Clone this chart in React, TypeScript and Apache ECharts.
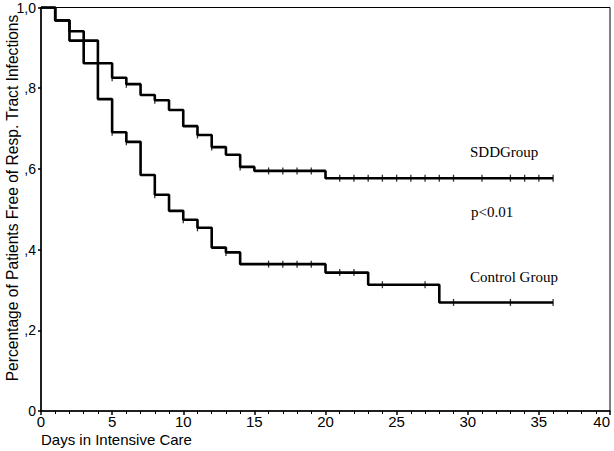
import React, { useEffect, useRef } from "react";
import * as echarts from "echarts";

const sddDays = [0, 1, 2, 3, 5, 6, 7, 8, 9, 10, 11, 12, 13, 14, 15, 20, 36];
const sddValues = [1.0, 0.968, 0.941, 0.862, 0.826, 0.81, 0.783, 0.77, 0.746, 0.706, 0.684, 0.654, 0.635, 0.605, 0.595, 0.577, 0.577];
const ctrlDays = [0, 1, 2, 4, 5, 6, 7, 8, 9, 10, 11, 12, 13, 14, 20, 23, 28, 36];
const ctrlValues = [1.0, 0.968, 0.918, 0.773, 0.691, 0.667, 0.585, 0.536, 0.496, 0.474, 0.454, 0.405, 0.393, 0.364, 0.343, 0.313, 0.269, 0.269];
const sddCensorDays = [5, 6, 8, 11, 12, 14, 16, 17, 18, 19, 21, 22, 23, 24, 25, 26, 27, 28, 29, 31, 33, 34, 35, 36];
const ctrlCensorDays = [3, 5, 6, 8, 10, 11, 13, 16, 17, 18, 19, 21, 22, 24, 27, 29, 33, 36];
const yTickLabels: Record<string, string> = { "0": "0", "0.2": ",2", "0.4": ",4", "0.6": ",6", "0.8": ",8", "1": "1,0" };

function valueAt(days: number[], vals: number[], d: number) {
  let v = vals[0];
  for (let i = 0; i < days.length; i++) if (days[i] <= d) v = vals[i];
  return v;
}

export default function App() {
  const ref = useRef<HTMLDivElement>(null);
  useEffect(() => {
    if (!ref.current) return;
    const chart = echarts.init(ref.current, null, { renderer: "svg" });
    const sans = "'Liberation Sans', Arial, sans-serif";
    const serif = "'Liberation Serif', 'Times New Roman', serif";
    chart.setOption({
      animation: false,
      backgroundColor: "#fff",
      grid: {
        left: 41, right: 4, top: 7.5, bottom: 40, containLabel: false, outerBoundsMode: "none",
        show: true, borderColor: "#000", borderWidth: 1, backgroundColor: "transparent",
      },
      xAxis: {
        type: "value", min: 0, max: 40, interval: 5,
        axisLine: { lineStyle: { color: "#000", width: 1.5 } },
        axisTick: { show: true, length: 4, lineStyle: { color: "#000", width: 1.5 } },
        minorTick: { show: true, splitNumber: 5, length: 3, lineStyle: { color: "#000", width: 1 } },
        splitLine: { show: false },
        axisLabel: { color: "#000", fontFamily: sans, fontSize: 15, margin: 3, alignMaxLabel: "right" },
      },
      yAxis: {
        type: "value", min: 0, max: 1, interval: 0.2,
        axisLine: { lineStyle: { color: "#000", width: 1.5 } },
        axisTick: { show: true, length: 3, lineStyle: { color: "#000", width: 1.5 } },
        splitLine: { show: false },
        axisLabel: {
          color: "#000", fontFamily: sans, fontSize: 14, margin: 5,
          formatter: (v: number) => yTickLabels[String(Math.round(v * 10) / 10)] ?? String(v),
        },
      },
      graphic: [
        { type: "text", left: 41, top: 432, style: { text: "Days in Intensive Care", fill: "#000", font: `15px ${sans}` } },
        { type: "text", x: 12, y: 198, rotation: Math.PI / 2, style: { text: "Percentage of Patients Free of Resp. Tract Infections", fill: "#000", font: `15.6px ${sans}`, align: "center", verticalAlign: "middle" } },
        { type: "text", x: 470, y: 152, style: { text: "SDDGroup", fill: "#000", font: `15px ${serif}`, verticalAlign: "middle" } },
        { type: "text", x: 471, y: 212, style: { text: "p<0.01", fill: "#000", font: `15px ${serif}`, verticalAlign: "middle" } },
        { type: "text", x: 470, y: 277, style: { text: "Control Group", fill: "#000", font: `15px ${serif}`, verticalAlign: "middle" } },
      ],
      series: [
        {
          name: "SDD", type: "line", step: "end", showSymbol: false,
          lineStyle: { color: "#000", width: 2.6 },
          data: sddDays.map((d, i) => [d, sddValues[i]]),
        },
        {
          name: "Control", type: "line", step: "end", showSymbol: false,
          lineStyle: { color: "#000", width: 2.6 },
          data: ctrlDays.map((d, i) => [d, ctrlValues[i]]),
        },
        {
          type: "scatter", symbol: "rect", symbolSize: [1.3, 7], itemStyle: { color: "#000" },
          data: sddCensorDays.map((d) => [d, valueAt(sddDays, sddValues, d)]),
        },
        {
          type: "scatter", symbol: "rect", symbolSize: [1.3, 7], itemStyle: { color: "#000" },
          data: ctrlCensorDays.map((d) => [d, valueAt(ctrlDays, ctrlValues, d)]),
        },
      ],
    });
    return () => chart.dispose();
  }, []);
  return <div ref={ref} style={{ width: 614, height: 451, position: "absolute", left: 0, top: 0 }} />;
}
